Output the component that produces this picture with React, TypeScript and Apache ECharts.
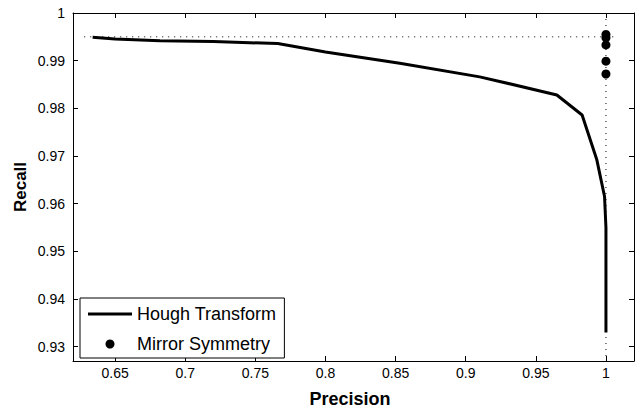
import React, { useEffect, useRef } from "react";
import * as echarts from "echarts";

const houghPrecision = [0.634, 0.65, 0.682, 0.72, 0.746, 0.766, 0.8, 0.853, 0.91, 0.925, 0.965, 0.983, 0.9935, 0.999, 1.0, 1.0];
const houghRecall = [0.9949, 0.99455, 0.9942, 0.994, 0.99377, 0.9936, 0.9918, 0.98945, 0.9866, 0.98559, 0.9828, 0.9786, 0.9692, 0.9615, 0.955, 0.933];

const mirrorPrecision = [1, 1, 1, 1, 1];
const mirrorRecall = [0.9955, 0.9948, 0.9933, 0.9899, 0.9872];

const refHX = [0.628, 1.008];
const refHY = [0.995, 0.995];
const refVX = [1, 1];
const refVY = [1, 0.927];

const xMin = 0.62;
const xMax = 1.02;
const yMin = 0.927;
const yMax = 1;

export default function App() {
  const ref = useRef<HTMLDivElement>(null);
  useEffect(() => {
    if (!ref.current) return;
    const chart = echarts.init(ref.current, null, { renderer: "svg" });
    const font = "'Liberation Sans', Arial, sans-serif";
    const axisCommon = {
      axisLine: { show: true, onZero: false, lineStyle: { color: "#000", width: 1 } },
      axisTick: { show: true, inside: true, length: 5, lineStyle: { color: "#000" } },
      splitLine: { show: false },
    };
    const fmt = (step: number) => (v: number) => {
      const k = v / step;
      if (Math.abs(k - Math.round(k)) > 1e-6) return "";
      return String(parseFloat(v.toFixed(3)));
    };
    chart.setOption({
      animation: false,
      backgroundColor: "#fff",
      grid: { left: 73, top: 13, right: 3, bottom: 49, containLabel: false },
      xAxis: [
        {
          type: "value", min: xMin, max: xMax, splitNumber: 8, position: "bottom",
          ...axisCommon,
          axisLabel: { color: "#000", fontSize: 14, fontFamily: font, margin: 5, formatter: fmt(0.05), showMinLabel: false, showMaxLabel: false },
        },
        {
          type: "value", min: xMin, max: xMax, splitNumber: 8, position: "top",
          ...axisCommon,
          axisLabel: { show: false },
        },
      ],
      yAxis: [
        {
          type: "value", min: yMin, max: yMax, splitNumber: 7, position: "left",
          ...axisCommon,
          axisLabel: { color: "#000", fontSize: 14, fontFamily: font, margin: 8, formatter: fmt(0.01), showMinLabel: false },
        },
        {
          type: "value", min: yMin, max: yMax, splitNumber: 7, position: "right",
          ...axisCommon,
          axisLabel: { show: false },
        },
      ],
      legend: {
        orient: "vertical",
        left: 80,
        top: 298,
        padding: [7, 8, 5, 8],
        itemWidth: 44,
        itemHeight: 9,
        itemGap: 12,
        borderColor: "#000",
        borderWidth: 1,
        borderRadius: 0,
        backgroundColor: "#fff",
        textStyle: { color: "#000", fontSize: 18, fontFamily: font, lineHeight: 18 },
        data: [
          { name: "Hough Transform", icon: "path://M0,0L44,0L44,3L0,3Z", itemStyle: { color: "#000" } },
          { name: "Mirror Symmetry", icon: "circle", itemStyle: { color: "#000", opacity: 1 } },
        ],
      },
      series: [
        {
          name: "ref-h",
          type: "line",
          data: refHX.map((x, i) => [x, refHY[i]]),
          symbol: "none",
          lineStyle: { color: "#000", width: 1, type: [1, 5] },
          silent: true,
        },
        {
          name: "ref-v",
          type: "line",
          data: refVX.map((x, i) => [x, refVY[i]]),
          symbol: "none",
          lineStyle: { color: "#000", width: 1, type: [1, 5] },
          silent: true,
        },
        {
          name: "Hough Transform",
          type: "line",
          data: houghPrecision.map((x, i) => [x, houghRecall[i]]),
          symbol: "none",
          showSymbol: false,
          lineStyle: { color: "#000", width: 3 },
          itemStyle: { color: "#000" },
        },
        {
          name: "Mirror Symmetry",
          type: "scatter",
          data: mirrorPrecision.map((x, i) => [x, mirrorRecall[i]]),
          symbol: "circle",
          symbolSize: 9,
          itemStyle: { color: "#000", opacity: 1 },
        },
      ],
      graphic: [
        {
          type: "text",
          x: 20,
          y: 187,
          rotation: Math.PI / 2,
          style: { text: "Recall", fill: "#000", font: `bold 17px ${font}`, align: "center", verticalAlign: "middle" },
        },
        {
          type: "text",
          x: 350,
          y: 399,
          style: { text: "Precision", fill: "#000", font: `bold 18px ${font}`, align: "center", verticalAlign: "middle" },
        },
      ],
    });
    return () => chart.dispose();
  }, []);
  return <div ref={ref} style={{ width: 637, height: 410, position: "absolute", left: 0, top: 0 }} />;
}
